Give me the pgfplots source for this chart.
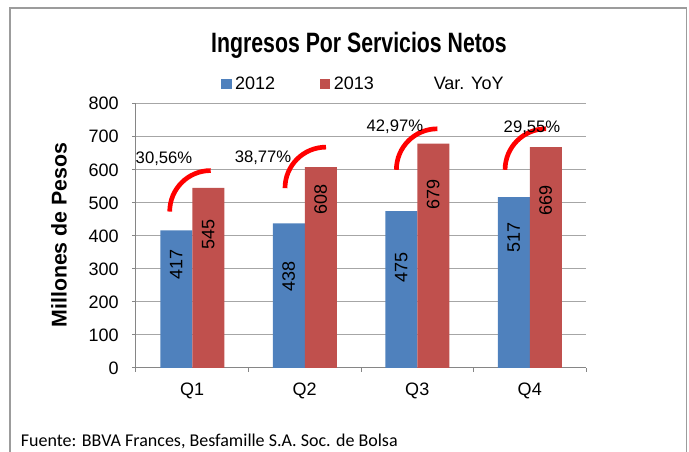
\documentclass[border=0pt]{standalone}
\usepackage{pgfplots}
\pgfplotsset{compat=1.18}
\usepackage{fontspec}
\setmainfont{Liberation Sans}
\newfontfamily\titlefont{Liberation Sans}[FakeStretch=0.76]
\newfontfamily\footfont{Carlito}
\definecolor{blue12}{HTML}{4F81BD}
\definecolor{red13}{HTML}{C0504D}
\definecolor{gridc}{HTML}{A6A6A6}
\definecolor{axisc}{HTML}{868686}
\definecolor{framec}{HTML}{9C9C9C}
\pgfdeclareplotmark{yoyarc}{%
  \pgfpathmoveto{\pgfqpoint{-30.75pt}{0pt}}%
  \pgfpatharc{180}{90}{30.75pt}%
  \pgfusepathqstroke}
\begin{document}
\begin{tikzpicture}
\useasboundingbox (0,0) rectangle (516.75pt,-339pt);
\draw[framec, line width=1pt] (7.5pt,-341pt) -- (7.5pt,-6pt) -- (515pt,-6pt) -- (515pt,-341pt);
\node[anchor=base, font=\titlefont\bfseries\fontsize{21pt}{25pt}\selectfont] at (269.25pt,-39.5pt) {Ingresos Por Servicios Netos};
\node[anchor=base west, inner sep=0pt, font=\footfont\fontsize{13.5pt}{16pt}\selectfont] at (15.5pt,-334.5pt) {Fuente: BBVA Frances, Besfamille S.A. Soc. de Bolsa};
\begin{axis}[
  at={(102pt,-276pt)}, anchor=south west,
  scale only axis, width=337.5pt, height=198.2pt,
  xmin=-0.5, xmax=3.5, ymin=0, ymax=800,
  clip=false,
  ytick={0,100,...,800},
  ymajorgrids, grid style={gridc, line width=0.75pt},
  xtick={-0.5,0.5,1.5,2.5,3.5}, xticklabels={},
  extra x ticks={0,1,2,3}, extra x tick labels={Q1,Q2,Q3,Q4},
  extra x tick style={major tick length=0pt, grid=none},
  axis x line*=bottom, axis y line*=left,
  axis line style={draw=axisc, line width=0.75pt},
  tick align=outside, major tick length=3pt,
  tick style={axisc, line width=0.75pt},
  tick label style={font=\fontsize{13.5pt}{15pt}\selectfont, inner sep=0pt},
  yticklabel style={xshift=-9.75pt},
  xticklabel style={yshift=-11pt},
  /pgf/number format/assume math mode=true,
  ylabel={Millones de Pesos},
  ylabel style={font=\bfseries\fontsize{16pt}{19pt}\selectfont, at={(axis description cs:-0.171,0.503)}, anchor=center},
  legend columns=3,
  legend style={draw=none, fill=none, at={(axis description cs:0.189,1.0753)}, anchor=west,
    inner sep=0pt, outer sep=0pt, font=\fontsize{13.5pt}{15pt}\selectfont,
    nodes={inner sep=0.5pt},
    /tikz/every odd column/.append style={column sep=2pt},
    /tikz/column 2/.append style={column sep=33pt},
    /tikz/column 4/.append style={column sep=42pt}},
]
\addplot[ybar, bar width=24pt, bar shift=-12pt, fill=blue12, draw=none,
  legend image code/.code={\fill[blue12] (0pt,-4pt) rectangle (8pt,4pt);}]
  coordinates {(0,417) (1,438) (2,475) (3,517)};
\addlegendentry{2012}
\addplot[ybar, bar width=24pt, bar shift=12pt, fill=red13, draw=none,
  legend image code/.code={\fill[red13] (0pt,-4pt) rectangle (8pt,4pt);}]
  coordinates {(0,545) (1,608) (2,679) (3,669)};
\addlegendentry{2013}
\addplot[only marks, mark=yoyarc, mark options={draw=red, line width=3.5pt}, forget plot]
  coordinates {(0.164,473.6) (1.189,544.5) (2.179,600) (3.145,600)};
\addlegendimage{empty legend}
\addlegendentry{Var. YoY}
% percent labels
\addplot[draw=none, mark=none, forget plot, nodes near coords, point meta=explicit symbolic,
  every node near coord/.append style={anchor=center, inner sep=0pt, font=\fontsize{12.5pt}{15pt}\selectfont}]
  coordinates {(-0.251,632.6) [30,56\%] (0.629,635.6) [38,77\%] (1.802,731) [42,97\%] (3.02,728) [29,55\%]};
% bar value labels
\addplot[draw=none, mark=none, forget plot, nodes near coords, point meta=explicit symbolic,
  every node near coord/.append style={anchor=center, rotate=90, inner sep=0pt, font=\fontsize{13.5pt}{15pt}\selectfont}]
  coordinates {(-0.142,314.8) [417] (0.858,278.5) [438] (1.858,304.2) [475] (2.858,395) [517]};
\addplot[draw=none, mark=none, forget plot, nodes near coords, point meta=explicit symbolic,
  every node near coord/.append style={anchor=center, rotate=90, inner sep=0pt, font=\fontsize{13.5pt}{15pt}\selectfont}]
  coordinates {(0.142,405.6) [545] (1.142,511.5) [608] (2.142,526.6) [679] (3.142,508.5) [669]};
\end{axis}
\end{tikzpicture}
\end{document}
